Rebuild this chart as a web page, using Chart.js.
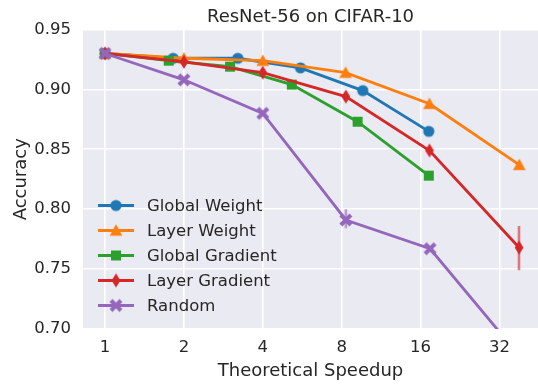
<!DOCTYPE html>
<html>
<head>
<meta charset="utf-8">
<script src="https://cdn.jsdelivr.net/npm/chart.js@4/dist/chart.umd.min.js"></script>
<style>
  html, body { margin: 0; padding: 0; background: #fff; }
  #wrap { width: 538px; height: 385px; }
</style>
</head>
<body>
<div id="wrap"><canvas id="chart"></canvas></div>
<script>
// values
const chartTitle = "ResNet-56 on CIFAR-10";
const seriesNames = ["Global Weight", "Layer Weight", "Global Gradient", "Layer Gradient", "Random"];
const seriesColors = ["#1f77b4", "#ff7f0e", "#2ca02c", "#d62728", "#9467bd"];
const seriesMarkers = ["circle", "triangle", "square", "thinDiamond", "filledX"];

const globalWeightX = [1, 1.82, 3.21, 5.57, 9.63, 17.2];
const globalWeightY = [0.930, 0.926, 0.926, 0.918, 0.899, 0.865];
const layerWeightX = [1, 2, 4, 8.28, 17.3, 38.1];
const layerWeightY = [0.930, 0.926, 0.924, 0.914, 0.888, 0.837];
const globalGradientX = [1, 1.75, 3.0, 5.16, 9.2, 17.2];
const globalGradientY = [0.930, 0.924, 0.919, 0.904, 0.873, 0.828];
const layerGradientX = [1, 2, 4, 8.3, 17.3, 38];
const layerGradientY = [0.930, 0.923, 0.914, 0.894, 0.849, 0.768];
const randomX = [1, 2, 4, 8.3, 17.4, 38];
const randomY = [0.930, 0.908, 0.880, 0.791, 0.767, 0.678];

// visible error bars: which series, at which x, low / high
const errorSeries = [4, 3];
const errorX = [8.3, 38];
const errorLow = [0.784, 0.749];
const errorHigh = [0.800, 0.786];

const xTicks = [1, 2, 4, 8, 16, 32];
const yMin = 0.70, yMax = 0.95, yStep = 0.05;
const xMin = 0.824, xMax = 44.9;

const seriesX = [globalWeightX, layerWeightX, globalGradientX, layerGradientX, randomX];
const seriesY = [globalWeightY, layerWeightY, globalGradientY, layerGradientY, randomY];

const FONT = "'DejaVu Sans', sans-serif";
const TEXT = "#262626";

// marker images, a bit like matplotlib's
function makeMarker(kind, color) {
    const s = 18, c = document.createElement("canvas");
    c.width = s; c.height = s;
    const g = c.getContext("2d");
    const m = s / 2;
    g.fillStyle = color;
    g.strokeStyle = color;
    g.beginPath();
    if (kind === "circle") {
        g.arc(m, m, 5.6, 0, Math.PI * 2);
        g.fill();
    } else if (kind === "triangle") {
        g.moveTo(m, m - 6.3);
        g.lineTo(m + 6.3, m + 5.3);
        g.lineTo(m - 6.3, m + 5.3);
        g.closePath();
        g.fill();
    } else if (kind === "square") {
        g.rect(m - 5, m - 5, 10, 10);
        g.fill();
    } else if (kind === "thinDiamond") {
        g.moveTo(m, m - 7);
        g.lineTo(m + 4.4, m);
        g.lineTo(m, m + 7);
        g.lineTo(m - 4.4, m);
        g.closePath();
        g.fill();
    } else if (kind === "filledX") {
        g.lineWidth = 4.2;
        g.lineCap = "butt";
        g.moveTo(m - 5, m - 5); g.lineTo(m + 5, m + 5);
        g.moveTo(m + 5, m - 5); g.lineTo(m - 5, m + 5);
        g.stroke();
    }
    return c;
}
const markerImages = seriesMarkers.map((k, i) => makeMarker(k, seriesColors[i]));

function hexAlpha(hex, a) {
    const n = parseInt(hex.slice(1), 16);
    return `rgba(${n >> 16},${(n >> 8) & 255},${n & 255},${a})`;
}

const datasets = [];
seriesNames.forEach((name, i) => {
    datasets.push({
        label: name,
        data: seriesX[i].map((x, j) => ({ x: x, y: seriesY[i][j] })),
        borderColor: seriesColors[i],
        backgroundColor: seriesColors[i],
        borderWidth: 2.8,
        pointStyle: markerImages[i],
        pointRadius: 6,
        pointHoverRadius: 6,
        tension: 0,
        order: 20 - 2 * i
    });
});
errorSeries.forEach((s, k) => {
    datasets.push({
        label: "_err" + k,
        data: [{ x: errorX[k], y: errorLow[k] }, { x: errorX[k], y: errorHigh[k] }],
        borderColor: hexAlpha(seriesColors[s], 0.6),
        borderWidth: 2.6,
        pointRadius: 0,
        order: 21 - 2 * s
    });
});

// legend inside the plot, lower left, line + marker like matplotlib
const insideLegend = {
    id: "insideLegend",
    afterDraw(chart) {
        const ctx = chart.ctx, area = chart.chartArea;
        const x0 = area.left + 15, x1 = x0 + 36, tx = x0 + 49;
        const rowH = 25;
        const yStart = area.bottom - 123.5;
        ctx.save();
        ctx.font = "16.5px " + FONT;
        ctx.textBaseline = "middle";
        seriesNames.forEach((name, i) => {
            const y = yStart + i * rowH;
            ctx.strokeStyle = seriesColors[i];
            ctx.lineWidth = 2.8;
            ctx.beginPath();
            ctx.moveTo(x0, y); ctx.lineTo(x1, y);
            ctx.stroke();
            const img = markerImages[i];
            ctx.drawImage(img, (x0 + x1) / 2 - img.width / 2, y - img.height / 2);
            ctx.fillStyle = TEXT;
            ctx.fillText(name, tx, y + 1);
        });
        ctx.restore();
    }
};

// seaborn darkgrid background
const plotBackground = {
    id: "plotBackground",
    beforeDraw(chart) {
        const { ctx, chartArea: a } = chart;
        ctx.save();
        ctx.fillStyle = "#eaeaf2";
        ctx.fillRect(a.left, a.top, a.right - a.left, a.bottom - a.top);
        ctx.restore();
    }
};

new Chart(document.getElementById("chart"), {
    type: "line",
    data: { datasets: datasets },
    plugins: [plotBackground, insideLegend],
    options: {
        responsive: true,
        maintainAspectRatio: false,
        animation: false,
        layout: { padding: 0, autoPadding: false },
        plugins: {
            legend: { display: false },
            tooltip: { enabled: false }
        },
        scales: {
            x: {
                type: "logarithmic",
                min: xMin,
                max: xMax,
                afterBuildTicks(scale) {
                    scale.ticks = xTicks.map(v => ({ value: v }));
                },
                afterFit(scale) {
                    scale.height = 56;
                    scale.paddingLeft = 0;
                    scale.paddingRight = 0;
                },
                ticks: {
                    color: TEXT,
                    font: { family: FONT, size: 16.5 },
                    padding: 9,
                    maxRotation: 0,
                    autoSkip: false,
                    callback: v => String(v)
                },
                grid: { color: "#ffffff", lineWidth: 1.6, drawTicks: false },
                border: { display: false },
                title: {
                    display: true,
                    text: "Theoretical Speedup",
                    color: TEXT,
                    font: { family: FONT, size: 18 },
                    padding: { top: 0, bottom: 3 }
                }
            },
            // empty top axis: its title is centred over the plot, like matplotlib's
            titleAxis: {
                type: "linear",
                position: "top",
                afterFit(scale) {
                    scale.height = 29.5;
                    scale.paddingLeft = 0;
                    scale.paddingRight = 0;
                },
                ticks: { display: false },
                grid: { display: false },
                border: { display: false },
                title: {
                    display: true,
                    text: chartTitle,
                    color: TEXT,
                    font: { family: FONT, size: 18 },
                    padding: { top: 7, bottom: 1 }
                }
            },
            y: {
                min: yMin,
                max: yMax,
                afterFit(scale) {
                    scale.width = 83;
                    scale.paddingTop = 0;
                    scale.paddingBottom = 0;
                },
                ticks: {
                    stepSize: yStep,
                    color: TEXT,
                    font: { family: FONT, size: 16.5 },
                    padding: 12,
                    callback: v => v.toFixed(2)
                },
                grid: { color: "#ffffff", lineWidth: 1.6, drawTicks: false },
                border: { display: false },
                title: {
                    display: true,
                    text: "Accuracy",
                    color: TEXT,
                    font: { family: FONT, size: 18 },
                    padding: { top: 11, bottom: 0 }
                }
            }
        }
    }
});
</script>
</body>
</html>
